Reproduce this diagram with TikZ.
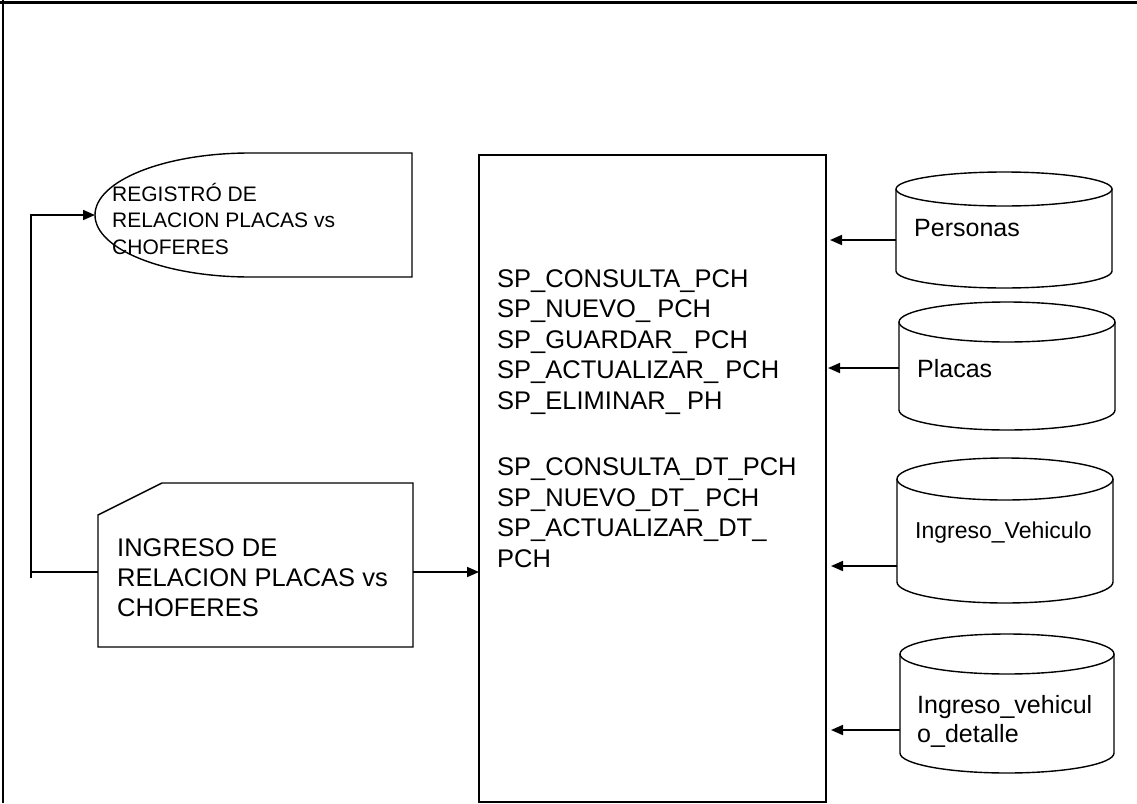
\documentclass[tikz,border=0pt]{standalone}
\usepackage{fontspec}
\setmainfont{Liberation Sans}
\usetikzlibrary{arrows.meta}

% draws a database cylinder: left x, right x, top y, bottom-of-side y, half height of the caps
\newcommand\dbdrum[5]{%
  \draw[outline] ({(#1+#2)/2},{#3+#5}) ellipse [x radius={(#2-#1)/2}, y radius=#5];
  \draw[outline] (#1,{#3+#5}) -- (#1,#4)
    arc[start angle=180, end angle=0, x radius={(#2-#1)/2}, y radius=#5] -- (#2,{#3+#5});
}

\begin{document}
\begin{tikzpicture}[x=1pt, y=-1pt, line join=miter,
  outline/.style={line width=1.4pt},
  area/.style={inner sep=0pt, outer sep=0pt, anchor=north west},
  link/.style={line width=1.7pt, -{Triangle[length=12pt,width=10pt]}},
  wire/.style={line width=1.7pt},
  % base anchor of a multi-line text sits on its last line
  txt/.style={inner sep=0pt, anchor=base west, align=left},
]
\useasboundingbox (0,0) rectangle (1137,803);

% page frame
\draw[line width=3pt] (0,2) -- (1137,2);
\draw[line width=2.4pt] (3,0) -- (3,803);

% stored procedures block
\node[area, draw, line width=1.4pt, minimum width=347pt, minimum height=647pt] (proc) at (479,155) {};
\node[txt, font=\fontsize{25.5}{30.5}\selectfont] (sp) at (497,567)
  {SP\_CONSULTA\_PCH\\SP\_NUEVO\_ PCH\\SP\_GUARDAR\_ PCH\\SP\_ACTUALIZAR\_ PCH\\SP\_ELIMINAR\_ PH\\[36pt]%
   SP\_CONSULTA\_DT\_PCH\\SP\_NUEVO\_DT\_ PCH\\SP\_ACTUALIZAR\_DT\_\\PCH};

% display: registro
\node[area, minimum width=317pt, minimum height=124pt] (reg) at (95,153) {};
\draw[outline] (reg.north east) -- (250,153)
  arc[start angle=270, end angle=90, x radius=155, y radius=62] -- (reg.south east) -- cycle;
\node[txt, font=\fontsize{21}{26.5}\selectfont] (regt) at (112,254)
  {REGISTRÓ DE\\RELACION PLACAS vs\\CHOFERES};

% manual input card: ingreso
\node[area, minimum width=315pt, minimum height=164pt] (ing) at (98,483) {};
\draw[outline] ([yshift=-32pt]ing.north west) -- ([xshift=64pt]ing.north west)
  -- (ing.north east) -- (ing.south east) -- (ing.south west) -- cycle;
\node[txt, font=\fontsize{25.5}{30}\selectfont] (ingt) at (117,616)
  {INGRESO DE\\RELACION PLACAS vs\\CHOFERES};

% data stores
\dbdrum{896}{1112}{172}{271}{17}
\node[area, minimum width=216pt, minimum height=116pt] (pers) at (896,172) {};
\node[txt, font=\fontsize{25}{30}\selectfont] at (914,236) {Personas};

\dbdrum{899}{1115}{302}{410}{20}
\node[area, minimum width=216pt, minimum height=128pt] (plac) at (899,302) {};
\node[txt, font=\fontsize{25}{30}\selectfont] at (917,377) {Placas};

\dbdrum{897}{1113}{458}{582}{21}
\node[area, minimum width=216pt, minimum height=145pt] (veh) at (897,458) {};
\node[txt, font=\fontsize{23}{28}\selectfont] at (915,538) {Ingreso\_Vehiculo};

\dbdrum{900}{1114}{634}{753}{20}
\node[area, minimum width=214pt, minimum height=139pt] (vdet) at (900,634) {};
\node[txt, font=\fontsize{25}{29}\selectfont] at (917,742) {Ingreso\_vehicul\\o\_detalle};

% connectors
\coordinate (persout) at (pers.west |- 0,240);
\coordinate (placout) at (plac.west |- 0,368);
\coordinate (vehout) at (veh.west |- 0,566);
\coordinate (vdetout) at (vdet.west |- 0,730);
\draw[link] (persout) -- ([xshift=4pt]persout -| proc.east);
\draw[link] (placout) -- ([xshift=2pt]placout -| proc.east);
\draw[link] (vehout) -- ([xshift=5pt]vehout -| proc.east);
\draw[link] (vdetout) -- ([xshift=5pt]vdetout -| proc.east);

\coordinate (ingout) at (ing.east |- 0,572);
\draw[link] (ingout) -- (ingout -| proc.west);

\coordinate (loopend) at (31,578);
\draw[wire] (ing.west |- 0,572) -- (31,572);
\draw[link] (loopend) |- (reg.west);
\end{tikzpicture}
\end{document}
